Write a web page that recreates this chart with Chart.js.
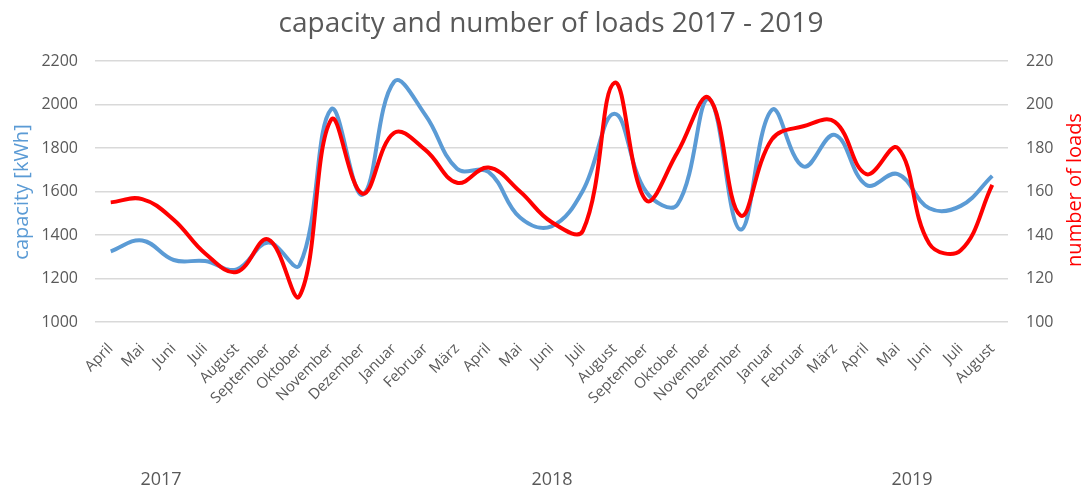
<!DOCTYPE html>
<html>
<head>
<meta charset="utf-8">
<script src="https://cdn.jsdelivr.net/npm/chart.js@4.4.1/dist/chart.umd.min.js"></script>
<style>
  html, body { margin: 0; padding: 0; background: #ffffff; }
  #wrap { width: 1088px; height: 495px; position: relative; }
</style>
</head>
<body>
<div id="wrap"><canvas id="c" width="1088" height="495"></canvas></div>
<script>
// Months from April 2017 to August 2019
const months = [
  'April', 'Mai', 'Juni', 'Juli', 'August', 'September', 'Oktober', 'November', 'Dezember',
  'Januar', 'Februar', 'März', 'April', 'Mai', 'Juni', 'Juli', 'August', 'September', 'Oktober', 'November', 'Dezember',
  'Januar', 'Februar', 'März', 'April', 'Mai', 'Juni', 'Juli', 'August'
];
const years = ['2017', '2018', '2019'];

// Charged energy per month [kWh]
const capacity = [
  1325, 1375, 1285, 1280, 1242, 1365, 1262, 1978, 1585,
  2105, 1950, 1705, 1690, 1480, 1440, 1605, 1958, 1600, 1540, 2025, 1425,
  1975, 1715, 1860, 1630, 1680, 1523, 1534, 1672
];
// Number of charging sessions per month
const loads = [
  155, 156.5, 147, 131.5, 123, 138, 112, 193, 159,
  187, 179, 164, 171, 160, 146, 142, 210, 156, 178, 203, 149,
  184, 190, 192, 168, 180, 136, 133, 163
];

const capacityTicks = [1000, 1200, 1400, 1600, 1800, 2000, 2200];
const loadTicks = [100, 120, 140, 160, 180, 200, 220];

const GREY = '#595959';
const BLUE = '#5B9BD5';
const RED = '#FF0000';
const FONT = "'Open Sans', 'DejaVu Sans', sans-serif";

// Title, rotated axis titles and year captions
const decorations = {
  id: 'decorations',
  afterDraw(chart) {
    const ctx = chart.ctx;
    ctx.save();
    ctx.fillStyle = GREY;
    ctx.textAlign = 'center';
    ctx.textBaseline = 'middle';
    ctx.font = '28px ' + FONT;
    ctx.fillText('capacity and number of loads 2017 - 2019', 551, 24);

    ctx.font = '18px ' + FONT;
    const yearX = [161, 552, 912];
    years.forEach((y, i) => ctx.fillText(y, yearX[i], 480));

    ctx.font = '20px ' + FONT;
    ctx.save();
    ctx.translate(22, 192);
    ctx.rotate(-Math.PI / 2);
    ctx.fillStyle = BLUE;
    ctx.fillText('capacity [kWh]', 0, 0);
    ctx.restore();

    ctx.save();
    ctx.translate(1075, 190);
    ctx.rotate(-Math.PI / 2);
    ctx.fillStyle = RED;
    ctx.fillText('number of loads', 0, 0);
    ctx.restore();
    ctx.restore();
  }
};

const whiteBg = {
  id: 'whiteBg',
  beforeDraw(chart) {
    const ctx = chart.ctx;
    ctx.save();
    ctx.fillStyle = '#ffffff';
    ctx.fillRect(0, 0, chart.width, chart.height);
    ctx.restore();
  }
};

new Chart(document.getElementById('c'), {
  type: 'line',
  data: {
    labels: months,
    datasets: [
      {
        label: 'capacity [kWh]',
        data: capacity,
        yAxisID: 'y',
        borderColor: BLUE,
        borderWidth: 4,
        pointRadius: 0,
        tension: 0.4,
        fill: false,
        order: 2
      },
      {
        label: 'number of loads',
        data: loads,
        yAxisID: 'y1',
        borderColor: RED,
        borderWidth: 4,
        pointRadius: 0,
        tension: 0.4,
        fill: false,
        order: 1
      }
    ]
  },
  options: {
    responsive: false,
    animation: false,
    devicePixelRatio: 1,
    layout: { padding: { top: 61, left: 0, right: 0, bottom: 0 } },
    plugins: {
      legend: { display: false },
      title: { display: false },
      tooltip: { enabled: false }
    },
    scales: {
      x: {
        offset: true,
        grid: { display: false },
        border: { display: false },
        ticks: {
          autoSkip: false,
          minRotation: 45,
          maxRotation: 45,
          padding: 10,
          color: GREY,
          font: { family: FONT, size: 15 }
        },
        afterFit(scale) { scale.height = 173; }
      },
      y: {
        position: 'left',
        min: 1000,
        max: 2200,
        afterBuildTicks(scale) { scale.ticks = capacityTicks.map(v => ({ value: v })); },
        grid: { color: '#D9D9D9', lineWidth: 1.5, drawTicks: false },
        border: { display: false },
        ticks: {
          padding: 17,
          color: GREY,
          font: { family: FONT, size: 16 },
          callback: v => String(v)
        },
        afterFit(scale) { scale.width = 95; }
      },
      y1: {
        position: 'right',
        min: 100,
        max: 220,
        afterBuildTicks(scale) { scale.ticks = loadTicks.map(v => ({ value: v })); },
        grid: { drawOnChartArea: false, drawTicks: false },
        border: { display: false },
        ticks: {
          padding: 18,
          color: GREY,
          font: { family: FONT, size: 16 },
          callback: v => String(v)
        },
        afterFit(scale) { scale.width = 80; }
      }
    }
  },
  plugins: [whiteBg, decorations]
});
</script>
</body>
</html>
